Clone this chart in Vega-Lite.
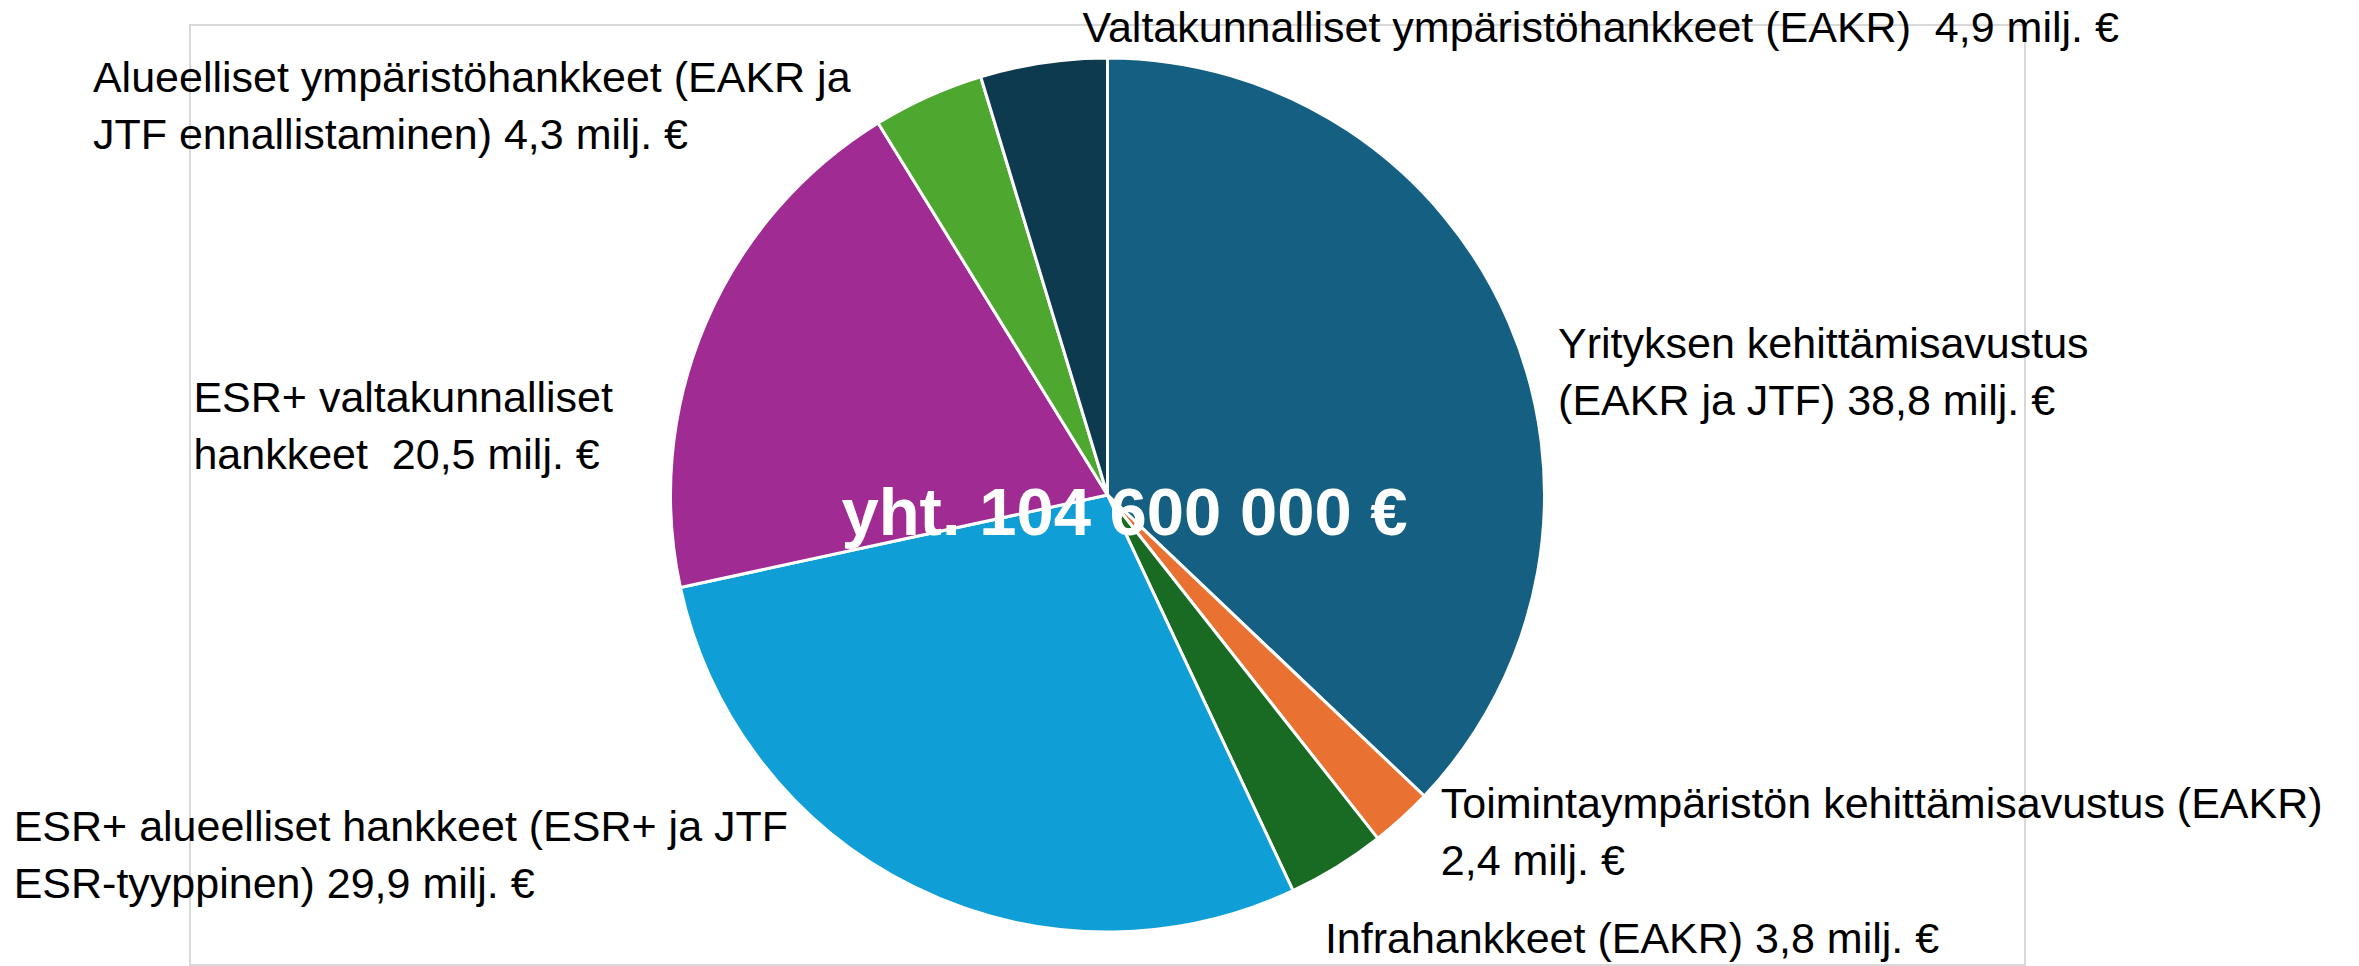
{
  "$schema": "https://vega.github.io/schema/vega-lite/v6.json",
  "width": 1835,
  "height": 940,
  "autosize": "none",
  "padding": {"left": 190, "top": 25, "right": 334, "bottom": 1},
  "background": "white",
  "view": {"stroke": "#d9d9d9", "strokeWidth": 2},
  "config": {
    "view": {"stroke": "#d9d9d9", "strokeWidth": 2},
    "text": {"font": "Liberation Sans"}
  },
  "data": {
    "values": [
      {"order": 1, "category": "Yrityksen kehittämisavustus (EAKR ja JTF)", "value": 38.8, "label": "Yrityksen kehittämisavustus\n(EAKR ja JTF) 38,8 milj. €"},
      {"order": 2, "category": "Toimintaympäristön kehittämisavustus (EAKR)", "value": 2.4, "label": "Toimintaympäristön kehittämisavustus (EAKR)\n2,4 milj. €"},
      {"order": 3, "category": "Infrahankkeet (EAKR)", "value": 3.8, "label": "Infrahankkeet (EAKR) 3,8 milj. €"},
      {"order": 4, "category": "ESR+ alueelliset hankkeet (ESR+ ja JTF ESR-tyyppinen)", "value": 29.9, "label": "ESR+ alueelliset hankkeet (ESR+ ja JTF\nESR-tyyppinen) 29,9 milj. €"},
      {"order": 5, "category": "ESR+ valtakunnalliset hankkeet", "value": 20.5, "label": "ESR+ valtakunnalliset\nhankkeet \u00a020,5 milj. €"},
      {"order": 6, "category": "Alueelliset ympäristöhankkeet (EAKR ja JTF ennallistaminen)", "value": 4.3, "label": "Alueelliset ympäristöhankkeet (EAKR ja\nJTF ennallistaminen) 4,3 milj. €"},
      {"order": 7, "category": "Valtakunnalliset ympäristöhankkeet (EAKR)", "value": 4.9, "label": "Valtakunnalliset ympäristöhankkeet (EAKR) \u00a04,9 milj. €"}
    ]
  },
  "transform": [
    {"window": [{"op": "sum", "field": "value", "as": "cum"}], "sort": [{"field": "order"}], "frame": [null, 0]},
    {"calculate": "datum.cum - datum.value / 2", "as": "mid"}
  ],
  "layer": [
    {
      "mark": {"type": "arc", "outerRadius": 437, "stroke": "white", "strokeWidth": 3},
      "encoding": {
        "theta": {"field": "value", "type": "quantitative", "stack": true},
        "order": {"field": "order", "type": "quantitative"},
        "color": {
          "field": "category",
          "type": "nominal",
          "scale": {
            "domain": [
              "Yrityksen kehittämisavustus (EAKR ja JTF)",
              "Toimintaympäristön kehittämisavustus (EAKR)",
              "Infrahankkeet (EAKR)",
              "ESR+ alueelliset hankkeet (ESR+ ja JTF ESR-tyyppinen)",
              "ESR+ valtakunnalliset hankkeet",
              "Alueelliset ympäristöhankkeet (EAKR ja JTF ennallistaminen)",
              "Valtakunnalliset ympäristöhankkeet (EAKR)"
            ],
            "range": ["#156082", "#E97132", "#196B24", "#0F9ED5", "#A02B93", "#4EA72E", "#0E3A4F"]
          },
          "legend": null
        }
      }
    },
    {
      "data": {"values": [{"t": "yht. 104 600 000 €"}]},
      "mark": {"type": "text", "fontWeight": "bold", "fontSize": 67, "color": "white", "align": "center", "baseline": "alphabetic", "dx": 17, "dy": 40},
      "encoding": {"text": {"field": "t"}}
    },
    {
      "transform": [{"filter": "datum.order == 1"}],
      "mark": {"type": "text", "radius": 437, "align": "left", "baseline": "alphabetic", "fontSize": 43, "lineHeight": 57, "lineBreak": "\n", "color": "black", "dx": 49, "dy": 35},
      "encoding": {"theta": {"field": "mid", "type": "quantitative", "stack": null}, "text": {"field": "label"}}
    },
    {
      "transform": [{"filter": "datum.order == 2"}],
      "mark": {"type": "text", "radius": 437, "align": "left", "baseline": "alphabetic", "fontSize": 43, "lineHeight": 57, "lineBreak": "\n", "color": "black", "dx": 39, "dy": 0},
      "encoding": {"theta": {"field": "mid", "type": "quantitative", "stack": null}, "text": {"field": "label"}}
    },
    {
      "transform": [{"filter": "datum.order == 3"}],
      "mark": {"type": "text", "radius": 437, "align": "left", "baseline": "alphabetic", "fontSize": 43, "lineHeight": 57, "lineBreak": "\n", "color": "black", "dx": -12, "dy": 86},
      "encoding": {"theta": {"field": "mid", "type": "quantitative", "stack": null}, "text": {"field": "label"}}
    },
    {
      "transform": [{"filter": "datum.order == 4"}],
      "mark": {"type": "text", "radius": 437, "align": "left", "baseline": "alphabetic", "fontSize": 43, "lineHeight": 57, "lineBreak": "\n", "color": "black", "dx": -900, "dy": -46},
      "encoding": {"theta": {"field": "mid", "type": "quantitative", "stack": null}, "text": {"field": "label"}}
    },
    {
      "transform": [{"filter": "datum.order == 5"}],
      "mark": {"type": "text", "radius": 437, "align": "left", "baseline": "alphabetic", "fontSize": 43, "lineHeight": 57, "lineBreak": "\n", "color": "black", "dx": -512, "dy": 88},
      "encoding": {"theta": {"field": "mid", "type": "quantitative", "stack": null}, "text": {"field": "label"}}
    },
    {
      "transform": [{"filter": "datum.order == 6"}],
      "mark": {"type": "text", "radius": 437, "align": "left", "baseline": "alphabetic", "fontSize": 43, "lineHeight": 57, "lineBreak": "\n", "color": "black", "dx": -835, "dy": -5},
      "encoding": {"theta": {"field": "mid", "type": "quantitative", "stack": null}, "text": {"field": "label"}}
    },
    {
      "transform": [{"filter": "datum.order == 7"}],
      "mark": {"type": "text", "radius": 437, "align": "left", "baseline": "alphabetic", "fontSize": 43, "lineHeight": 57, "lineBreak": "\n", "color": "black", "dx": 39, "dy": -21},
      "encoding": {"theta": {"field": "mid", "type": "quantitative", "stack": null}, "text": {"field": "label"}}
    }
  ]
}
